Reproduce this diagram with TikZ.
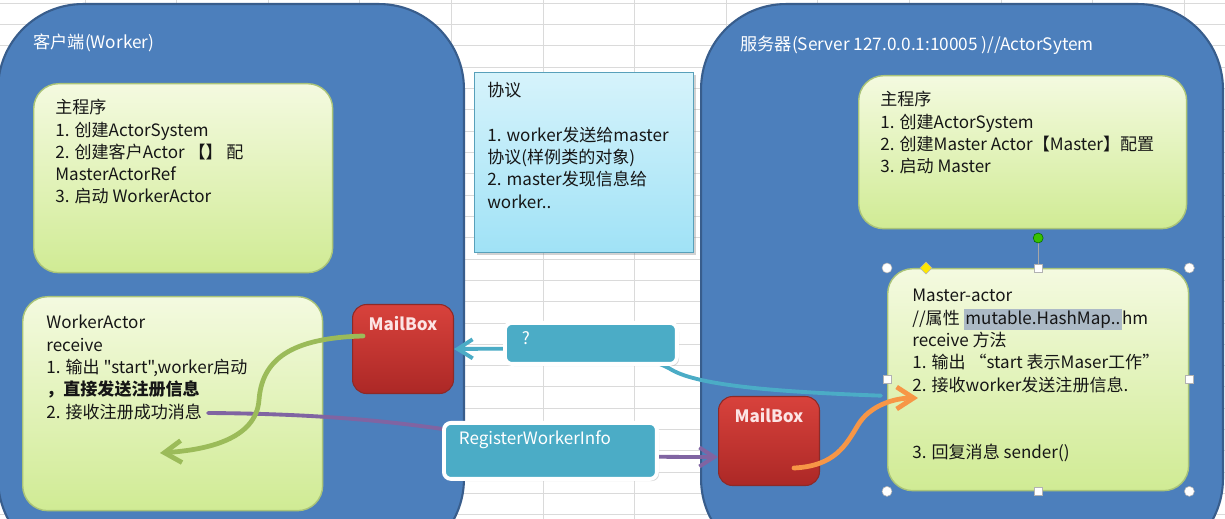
\documentclass[tikz,border=0pt]{standalone}
\usepackage{fontspec}
\newfontfamily\cjkfont{Noto Sans CJK SC}
\usetikzlibrary{arrows.meta,positioning,shadows}

\definecolor{gridgray}{RGB}{218,218,218}
\definecolor{panelfill}{RGB}{76,127,188}
\definecolor{panelline}{RGB}{56,93,140}
\definecolor{gtop}{RGB}{244,250,224}
\definecolor{gbot}{RGB}{208,235,148}
\definecolor{gedge}{RGB}{170,196,120}
\definecolor{ntop}{RGB}{214,243,251}
\definecolor{nbot}{RGB}{160,226,246}
\definecolor{nedge}{RGB}{88,160,186}
\definecolor{mbtop}{RGB}{216,66,60}
\definecolor{mbbot}{RGB}{172,40,38}
\definecolor{mbedge}{RGB}{140,42,40}
\definecolor{mbtext}{RGB}{252,228,228}
\definecolor{msgfill}{RGB}{75,172,198}
\definecolor{inkdark}{RGB}{22,22,22}
\definecolor{hlgray}{RGB}{172,186,198}
\definecolor{flowgreen}{RGB}{155,187,89}
\definecolor{flowpurple}{RGB}{128,100,162}
\definecolor{flowteal}{RGB}{75,172,198}
\definecolor{floworange}{RGB}{247,150,70}

\newcommand{\bodyfont}{\cjkfont\fontsize{9.7}{12.7}\selectfont}
\newcommand{\titlefont}{\cjkfont\fontsize{9.8}{12}\selectfont}
\newcommand{\hlmark}[1]{{\setlength{\fboxsep}{1pt}\colorbox{hlgray}{#1}}}

\begin{document}
\begin{tikzpicture}[
  x=0.02cm, y=-0.02cm,
  gridline/.style={draw=gridgray, line width=0.5pt},
  panel/.style={draw=panelline, line width=1.2pt, fill=panelfill, rounded corners=1.7cm,
                anchor=north west, inner sep=0, minimum height=11.2cm},
  greenbox/.style={draw=gedge, line width=0.8pt, rounded corners=0.5cm, top color=gtop,
                   bottom color=gbot, anchor=north west, inner sep=0},
  notebox/.style={draw=nedge, line width=0.6pt, top color=ntop, bottom color=nbot,
                  anchor=north west, inner sep=0,
                  drop shadow={shadow xshift=1.5pt, shadow yshift=-1.5pt, opacity=0.35}},
  mailbox/.style={draw=mbedge, line width=0.6pt, rounded corners=0.28cm, top color=mbtop,
                  bottom color=mbbot, anchor=north west, inner sep=0, minimum width=2.02cm,
                  text height=0.52cm, text depth=1.26cm, font=\bodyfont\bfseries, text=mbtext},
  msgbox/.style={draw=white, line width=2.2pt, fill=msgfill, rounded corners=0.14cm,
                 anchor=north west, inner ysep=0, align=left, font=\bodyfont, text=white,
                 drop shadow={shadow xshift=1.2pt, shadow yshift=-1.2pt, opacity=0.3}},
  txt/.style={anchor=north west, inner sep=0, align=left, font=\bodyfont, text=inkdark},
  title/.style={anchor=west, inner sep=0, font=\titlefont, text=white},
  flow/.style={line width=2.7pt, line cap=round,
               -{Straight Barb[length=3.4mm, width=4.4mm]}},
  thinflow/.style={line width=2.2pt, line cap=round,
                   -{Straight Barb[length=3mm, width=3.8mm]}}
]
\clip (0,0) rectangle (1225,519);
\fill[white] (0,0) rectangle (1225,519);

% spreadsheet grid behind everything
\foreach \k in {0,...,24}
  \draw[gridline] (0,{3+21.33*\k}) -- (1225,{3+21.33*\k});
\foreach \k in {-5,...,7}
  \draw[gridline] ({543+91.6*\k},0) -- ({543+91.6*\k},519);

% client and server panels
\node[panel, minimum width=9.32cm] (client) at (-3,3) {};
\node[panel, minimum width=10.44cm] (server) at (700,3) {};
\node[title] (clienttitle) at (33,43) {客户端(Worker)};
\node[title] (servertitle) at (740,45) {服务器(Server 127.0.0.1:10005 )//ActorSytem};

% main programs
\node[greenbox, minimum width=5.98cm, minimum height=3.78cm] (cmain) at (33,83) {};
\node[txt] (cmaintxt) at (55,99) {主程序\\
  1. 创建ActorSystem\\
  2. 创建客户Actor 【】 配\\
  MasterActorRef\\
  3. 启动 WorkerActor};

\node[greenbox, minimum width=6.56cm, minimum height=3.06cm] (smain) at (858,75) {};
\node[txt] (smaintxt) at (880,91) {主程序\\
  1. 创建ActorSystem\\
  2. 创建Master Actor【Master】配置\\
  3. 启动 Master};

% protocol note
\node[notebox, minimum width=4.38cm, minimum height=3.6cm] (proto) at (474,72) {};
\node[txt] (prototxt) at (487,82) {协议\\[12.7pt]
  1. worker发送给master\\
  协议(样例类的对象)\\
  2. master发现信息给\\
  worker..};

% actors
\node[greenbox, minimum width=6cm, minimum height=4.28cm] (wkr) at (22,296) {};
\node[txt] (wkrtxt) at (46,315) {WorkerActor\\
  receive\\
  1. 输出 "start",worker启动\\
  \textbf{，直接发送注册信息}\\
  2. 接收注册成功消息};

\node[greenbox, minimum width=6.02cm, minimum height=4.44cm] (mst) at (887,268) {};
\node[txt] (msttxt) at (912,289) {Master-actor\\
  //属性 \hlmark{mutable.HashMap..}hm\\
  receive 方法\\
  1. 输出 “start 表示Maser工作”\\
  2. 接收worker发送注册信息.\\[25.4pt]
  3. 回复消息 sender()};

% mailboxes
\node[mailbox] (mbL) at (352,304) {MailBox};
\node[mailbox] (mbR) at (718,396) {MailBox};

% messages passing behind the message boxes
\coordinate (ack) at (208,413);
\draw[thinflow, flowpurple] (ack) .. controls (350,414) and (440,426) .. (540,446)
  .. controls (600,457) and (650,457) .. ([shift={(0,16)}]mbR.west);
\draw[thinflow, flowteal] ([shift={(-6,16)}]mst.west) .. controls (780,392) and (700,386) .. (672,370)
  .. controls (640,350) and (560,348) .. (mbL.east);

\node[msgbox, text width=2.76cm, inner xsep=0.34cm, text height=0.44cm, text depth=0.38cm]
  (ask) at (503,321) {?};
\node[msgbox, text width=3.66cm, inner xsep=0.3cm, text height=0.44cm, text depth=0.68cm]
  (reg) at (442,421) {RegisterWorkerInfo};

% deliveries from the mailboxes
\coordinate (startin) at (160,453);
\coordinate (regin) at (918,398);
\draw[flow, flowgreen] ([shift={(-40,-13)}]mbL.center) .. controls (290,338) and (262,360) .. (259,400)
  .. controls (256,440) and (205,450) .. (startin);
\draw[flow, floworange] ([shift={(25,27)}]mbR.center) .. controls (835,466) and (846,445) .. (858,425)
  .. controls (870,405) and (895,398) .. (regin);

% selection handles on the master actor
\draw[gray!70, line width=0.4pt] (mst.north) -- ++(0,-30);
\filldraw[fill=green!65!black!70!lime, draw=green!40!black, line width=0.3pt]
  ([shift={(0,-30)}]mst.north) circle (0.1cm);
\foreach \a in {north west, north east, south west, south east}
  \filldraw[fill=white, draw=gray!60, line width=0.3pt] (mst.\a) circle (0.1cm);
\foreach \a in {north, south, west, east}
  \filldraw[fill=white, draw=gray!60, line width=0.3pt]
    ([shift={(-4,-4)}]mst.\a) rectangle ([shift={(4,4)}]mst.\a);
\filldraw[fill=yellow!90!orange, draw=gray!60, line width=0.3pt]
  ([shift={(39,-6)}]mst.north west) -- ++(6,6) -- ++(-6,6) -- ++(-6,-6) -- cycle;
\end{tikzpicture}
\end{document}
